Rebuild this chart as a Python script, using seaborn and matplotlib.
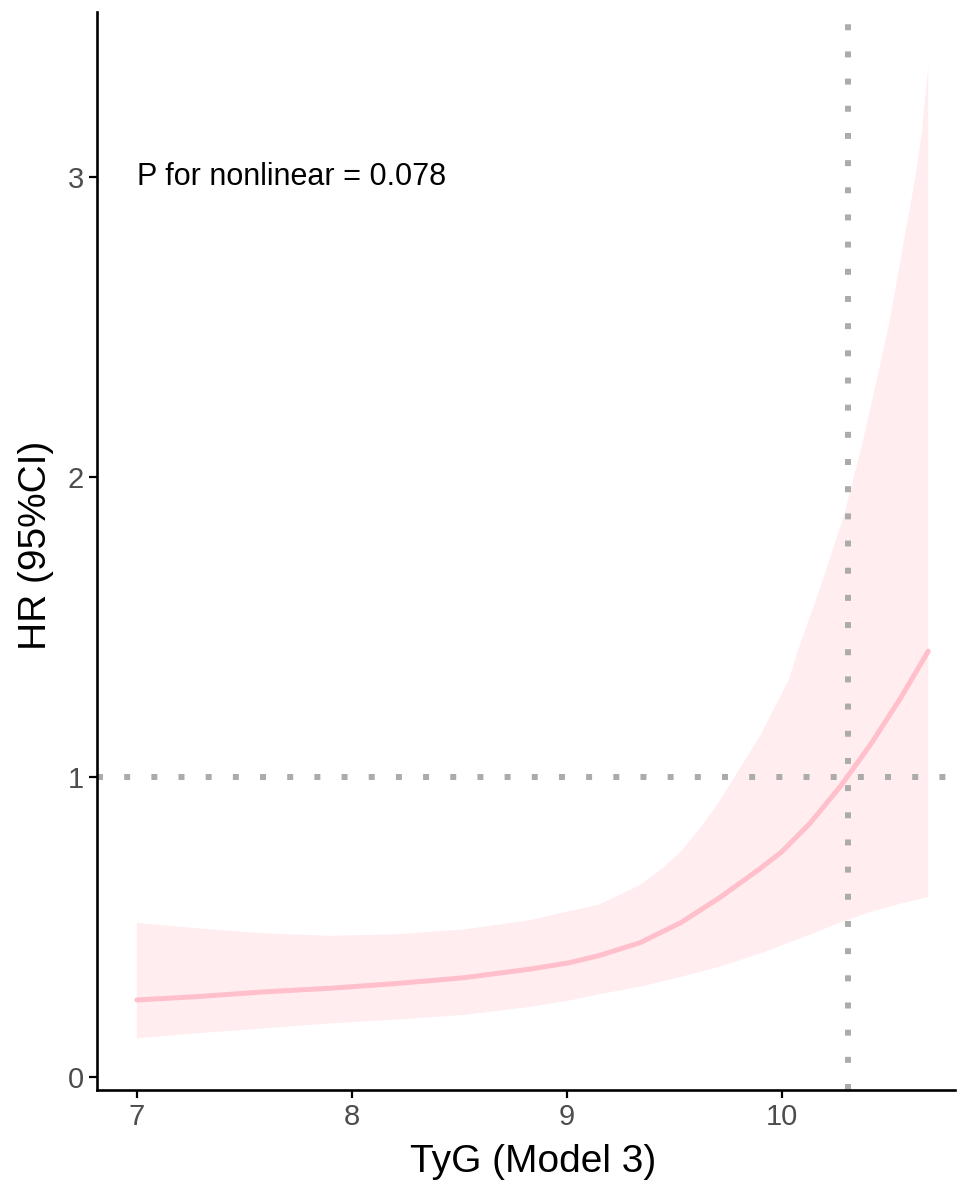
import matplotlib
matplotlib.use("Agg")
import matplotlib.pyplot as plt
import seaborn as sns
import pandas as pd

# ---- data ----
tyg = [7.0, 7.28, 7.59, 7.90, 8.21, 8.52, 8.83, 9.01, 9.15, 9.34, 9.53, 9.71,
       9.90, 10.0, 10.13, 10.27, 10.41, 10.55, 10.68]
hr = [0.257, 0.268, 0.284, 0.296, 0.312, 0.331, 0.360, 0.381, 0.405, 0.448,
      0.515, 0.598, 0.696, 0.752, 0.846, 0.968, 1.107, 1.262, 1.420]
lower = [0.129, 0.146, 0.162, 0.179, 0.192, 0.207, 0.234, 0.255, 0.276, 0.301,
         0.334, 0.368, 0.412, 0.440, 0.475, 0.515, 0.550, 0.578, 0.601]

upper_x = [7.0, 7.28, 7.59, 7.90, 8.21, 8.52, 8.83, 9.01, 9.15, 9.34, 9.45, 9.53,
           9.62, 9.71, 9.77, 9.90, 10.03, 10.08, 10.19, 10.29, 10.37, 10.44,
           10.50, 10.57, 10.62, 10.65, 10.68]
upper_y = [0.514, 0.496, 0.479, 0.471, 0.476, 0.492, 0.523, 0.553, 0.575, 0.640,
           0.700, 0.752, 0.830, 0.920, 0.990, 1.140, 1.323, 1.434, 1.657, 1.879,
           2.101, 2.323, 2.520, 2.800, 3.000, 3.150, 3.370]

ref_x = 10.305
ref_y = 1.0
p_text = "P for nonlinear = 0.078"
x_ticks = [7, 8, 9, 10]
y_ticks = [0, 1, 2, 3]

sns.set_theme(style="ticks")
plt.rcParams['font.family'] = ['Liberation Sans', 'DejaVu Sans']

fig = plt.figure(figsize=(9.59, 11.83), dpi=100)
ax = fig.add_axes([0.101, 0.0786, 0.895, 0.911])

# confidence band as a polygon: upper edge forward, lower edge backward
poly_x = list(upper_x) + list(reversed(tyg))
poly_y = list(upper_y) + list(reversed(lower))
ax.fill(poly_x, poly_y, color="#FFC0CB", alpha=0.28, linewidth=0, zorder=1)

df = pd.DataFrame({"TyG": tyg, "HR": hr})
sns.lineplot(data=df, x="TyG", y="HR", ax=ax, color="#FFC0CB", linewidth=3.6,
             zorder=3)

ax.axhline(ref_y, color="#ababab", linewidth=4.3, linestyle=(0, (1, 3.55)),
           dash_capstyle="butt", zorder=2)
ax.axvline(ref_x, color="#ababab", linewidth=4.3, linestyle=(0, (1, 3.55)),
           dash_capstyle="butt", zorder=2)

ax.text(7.0, 3.0, p_text, ha="left", va="center", fontsize=22, color="black")

ax.set_xlim(6.814, 10.805)
ax.set_ylim(-0.0433, 3.55)
ax.set_xticks(x_ticks)
ax.set_yticks(y_ticks)
ax.set_xticklabels([str(v) for v in x_ticks])
ax.set_yticklabels([str(v) for v in y_ticks])

ax.set_xlabel("TyG (Model 3)", fontsize=28, color="black", labelpad=9)
ax.set_ylabel("HR (95%CI)", fontsize=28, color="black", labelpad=10)
ax.xaxis.label.set_x(0.508)
ax.yaxis.label.set_y(0.505)

for side in ["top", "right"]:
    ax.spines[side].set_visible(False)
for side in ["left", "bottom"]:
    ax.spines[side].set_linewidth(1.9)
    ax.spines[side].set_color("black")

ax.tick_params(axis="both", which="major", length=5.5, width=1.6, color="black",
               labelsize=21, labelcolor="#4d4d4d", pad=4)
ax.grid(False)
ax.set_facecolor("white")

fig.savefig("out.png", dpi=100, facecolor="white")
